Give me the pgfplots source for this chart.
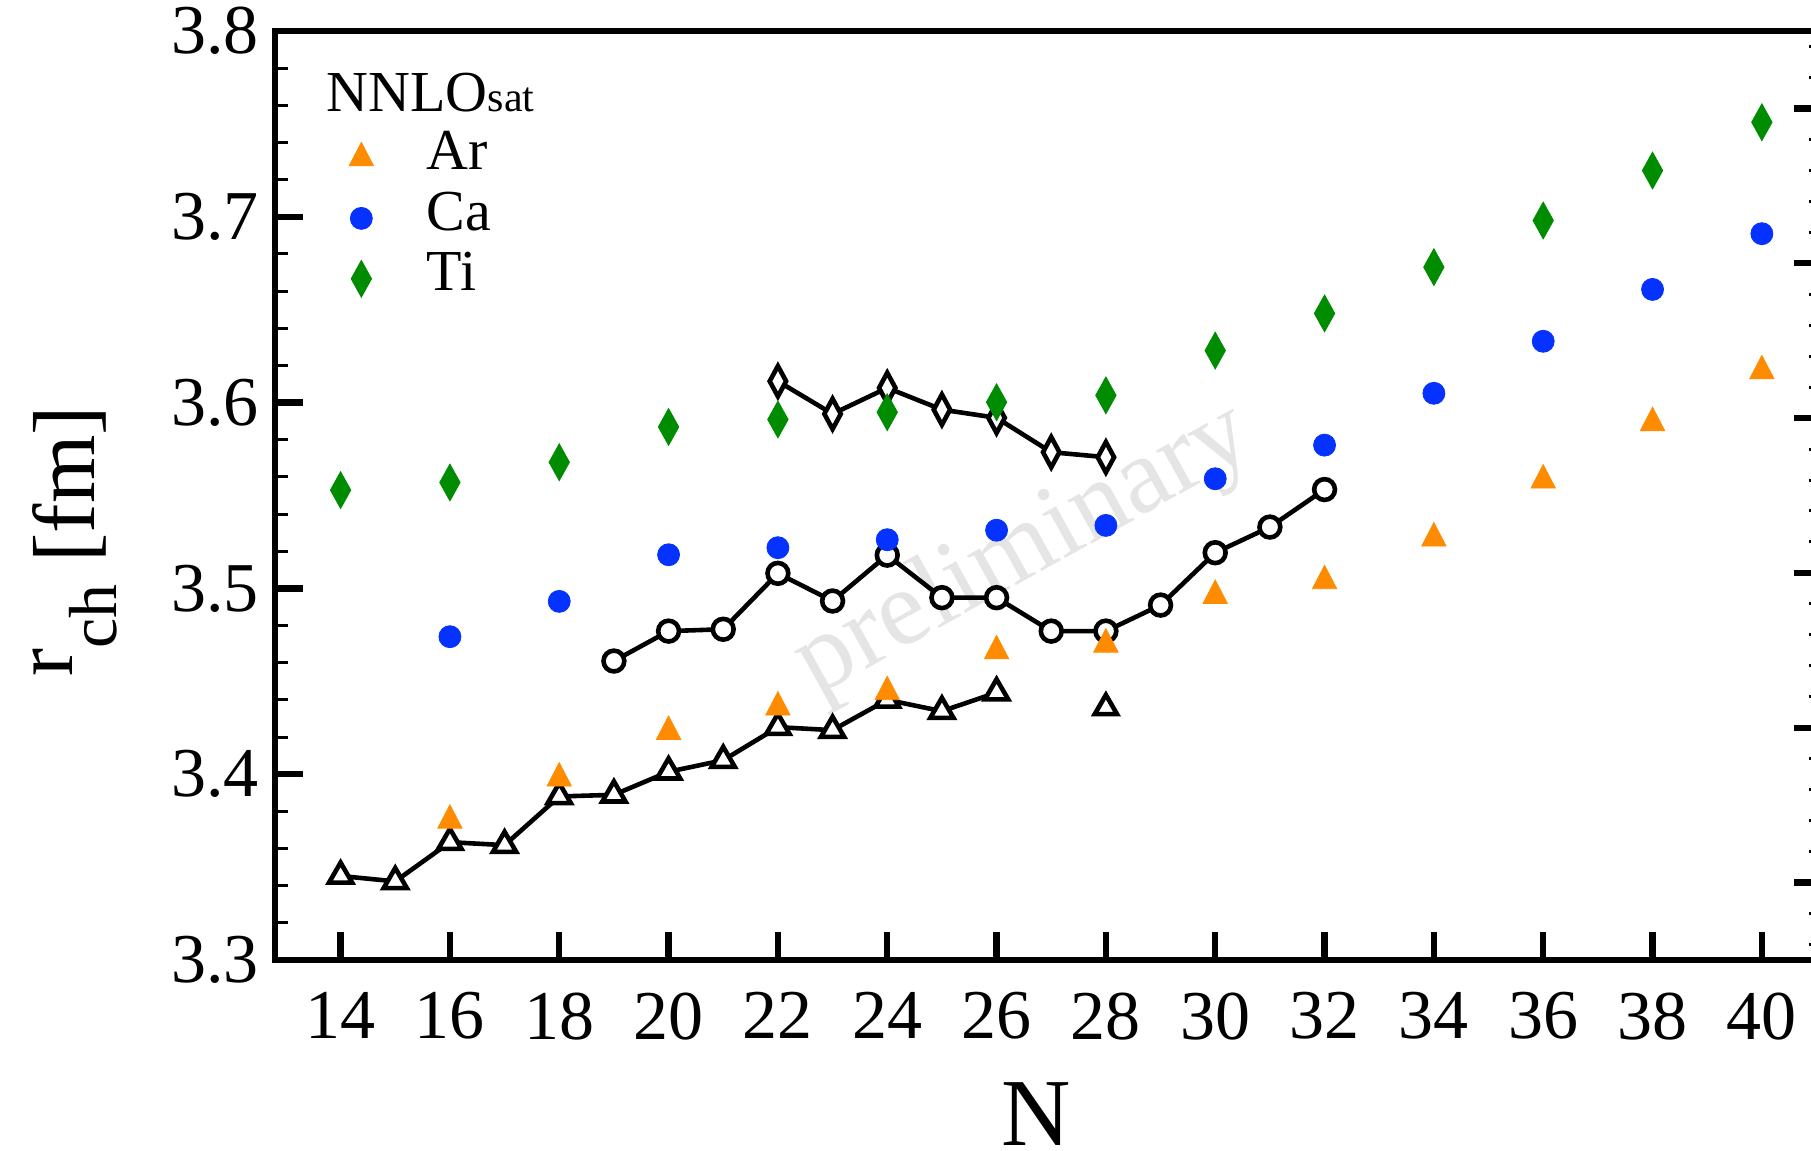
\documentclass[border=0pt]{standalone}
\usepackage{pgfplots}
\pgfplotsset{compat=1.18}
\usepackage{fontspec}
\setmainfont{Liberation Serif}
\definecolor{arorange}{RGB}{255,140,0}
\definecolor{cablue}{RGB}{5,50,255}
\definecolor{tigreen}{RGB}{0,140,0}
\begin{document}
\begin{tikzpicture}
\node[rotate=29, text=black!10, inner sep=0pt, font=\fontsize{27}{27}\selectfont] at (187.4pt,102.1pt) {preliminary};
\begin{axis}[
  at={(0pt,0pt)}, anchor=south west,
  width=386.75pt, height=232.25pt, scale only axis,
  xmin=12.8, xmax=41.1, ymin=3.3, ymax=3.8,
  xtick={14,16,...,40},
  ytick={3.3,3.4,3.5,3.6,3.7,3.8},
  minor ytick={3.32,3.34,3.36,3.38,3.42,3.44,3.46,3.48,3.52,3.54,3.56,3.58,3.62,3.64,3.66,3.68,3.72,3.74,3.76,3.78},
  tick pos=left, tick align=inside,
  major tick length=7pt, minor tick length=3.25pt,
  major tick style={line width=1.6pt, black},
  minor tick style={line width=0.75pt, black},
  axis line style={line width=1.6pt},
  /pgf/number format/assume math mode=true,
  y tick label style={/pgf/number format/fixed, /pgf/number format/fixed zerofill, /pgf/number format/precision=1, xshift=-0.5pt},
  tick label style={font=\fontsize{17.5}{17.5}\selectfont},
  x tick label style={yshift=-4.6pt},
  xlabel={N},
  ylabel={\raisebox{5.5pt}{\fontsize{21}{21}\selectfont r}\raisebox{-5.5pt}{\fontsize{17}{17}\selectfont ch} [fm]},
  every axis x label/.style={at={(axis description cs:0.4919,0)}, anchor=base, yshift=-46.5pt, font=\fontsize{24}{24}\selectfont},
  every axis y label/.style={at={(axis description cs:-0.1164,0.4505)}, rotate=90, anchor=base, font=\fontsize{22}{22}\selectfont},
  legend style={at={(rel axis cs:0,1)}, anchor=north west, xshift=18.55pt, yshift=-24.2pt,
    draw=none, fill=none, inner sep=0pt, outer sep=0pt,
    font=\fontsize{14.5}{14.5}\selectfont, row sep=0pt,
    nodes={inner sep=0pt, text height=10.5pt, text depth=4.6pt},
    /tikz/every odd column/.append style={column sep=13.35pt}},
  legend cell align=left,
]
% calculations (open markers, lines)
\addplot[black, line width=1.15pt, mark=triangle*, mark size=3.35pt, mark options={fill=white, solid, line width=1.15pt}, forget plot] coordinates {
(14,3.3452) (15,3.3423) (16,3.3634) (17,3.3618) (18,3.3880) (19,3.3889) (20,3.4013)
(21,3.4075) (22,3.4253) (23,3.4237) (24,3.4400) (25,3.4339) (26,3.4439)};
\addplot[black, only marks, mark=triangle*, mark size=3.2pt, mark options={fill=white, solid, line width=1.15pt}, forget plot] coordinates {(28,3.4358)};
\addplot[black, line width=1.15pt, mark=*, mark size=2.6pt, mark options={fill=white, solid, line width=1.15pt}, forget plot] coordinates {
(19,3.4609) (20,3.4770) (21,3.4780) (22,3.5081) (23,3.4932) (24,3.5179) (25,3.4950)
(26,3.4950) (27,3.4770) (28,3.4770) (29,3.4910) (30,3.5192) (31,3.5330) (32,3.5532)};
\addplot[black, line width=1.15pt, mark=diamond*, mark size=3.8pt, mark options={fill=white, solid, line width=1.15pt, xscale=0.72}, forget plot] coordinates {
(22,3.6115) (23,3.5939) (24,3.6079) (25,3.5962) (26,3.5918) (27,3.5733) (28,3.5706)};
% NNLOsat
\addplot[only marks, mark=triangle*, mark size=3.9pt, color=arorange, mark options={fill=arorange, draw=arorange, line width=0.2pt, xscale=0.9}] coordinates {
(16,3.3751) (18,3.3978) (20,3.4229) (22,3.4360) (24,3.4443) (26,3.4663) (28,3.4699)
(30,3.4961) (32,3.5040) (34,3.5270) (36,3.5582) (38,3.5891) (40,3.6170)};
\addlegendentry{Ar}
\addplot[only marks, mark=*, mark size=2.75pt, color=cablue, mark options={fill=cablue, draw=cablue, line width=0.2pt}] coordinates {
(16,3.4740) (18,3.4930) (20,3.5181) (22,3.5219) (24,3.5262) (26,3.5313) (28,3.5339)
(30,3.5590) (32,3.5771) (34,3.6050) (36,3.6330) (38,3.6609) (40,3.6909)};
\addlegendentry{Ca}
\addplot[only marks, mark=diamond*, mark size=4.6pt, color=tigreen, mark options={fill=tigreen, draw=tigreen, line width=0.2pt, xscale=0.74}] coordinates {
(14,3.5529) (16,3.5570) (18,3.5679) (20,3.5869) (22,3.5909) (24,3.5948) (26,3.6002)
(28,3.6039) (30,3.6280) (32,3.6480) (34,3.6729) (36,3.6980) (38,3.7249) (40,3.7509)};
\addlegendentry{Ti}
\node[anchor=base west, inner sep=0pt, xshift=12.75pt, yshift=-20.2pt, font=\fontsize{14.5}{14.5}\selectfont] at (rel axis cs:0,1) {NNLO{\fontsize{10.5}{10.5}\selectfont sat}};
\end{axis}
\begin{axis}[
  at={(0pt,0pt)}, anchor=south west,
  width=386.75pt, height=232.25pt, scale only axis,
  xmin=12.8, xmax=41.1, ymin=0, ymax=6,
  axis x line=none, axis y line*=right,
  ytick={0.5,1.5,2.5,3.5,4.5,5.5}, yticklabels={},
  minor ytick={0.1,0.3,0.7,0.9,1.1,1.3,1.7,1.9,2.1,2.3,2.7,2.9,3.1,3.3,3.7,3.9,4.1,4.3,4.7,4.9,5.1,5.3,5.7,5.9},
  tick align=inside,
  major tick length=7pt, minor tick length=3.25pt,
  major tick style={line width=1.6pt, black},
  minor tick style={line width=0.75pt, black},
  axis line style={line width=1.6pt},
]
\end{axis}
\pgfresetboundingbox
\path[use as bounding box] (-68.75pt,-47.75pt) rectangle (384pt,240pt);
\end{tikzpicture}
\end{document}
